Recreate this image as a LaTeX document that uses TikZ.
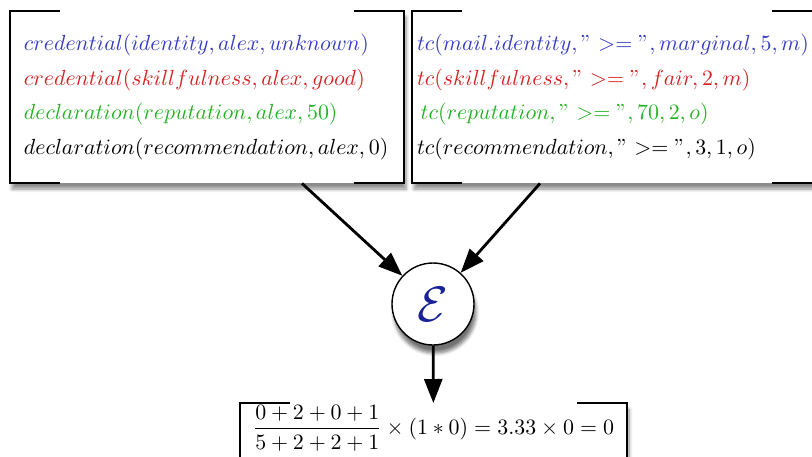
\documentclass[tikz,border=0pt]{standalone}
\usepackage{xcolor}
\usepackage{tikz}
\usepackage{amsmath,amssymb}
\usetikzlibrary{arrows.meta, positioning, calc, shadows.blur}

\definecolor{credblue}{RGB}{55,60,195}
\definecolor{credred}{RGB}{215,35,35}
\definecolor{credgreen}{RGB}{35,180,35}
\definecolor{evalblue}{RGB}{25,35,150}

\begin{document}
\begin{tikzpicture}[x=0.5pt, y=-0.5pt,
    panel/.style={rectangle, fill=white, inner sep=0pt,
        blur shadow={shadow xshift=1pt, shadow yshift=-3pt, shadow blur steps=6, shadow opacity=45},
        font=\fontsize{11}{17.4}\selectfont},
    rules/.style={panel, minimum height=86pt, align=left},
    edge/.style={line width=1pt, black},
    arr/.style={-{Triangle[length=12pt, width=9pt]}, line width=1.4pt, black},
]
\useasboundingbox (0,0) rectangle (812,456);

% the two rule sets
\node[rules, minimum width=197pt, text width=183pt] (CRED) at (207,97) {
    {\color{credblue}$credential(identity,alex,unknown)$}\\
    {\color{credred}$credential(skillfulness,alex,good)$}\\
    {\color{credgreen}$declaration(reputation,alex,50)$}\\
    $declaration(recommendation,alex,0)$};
\node[rules, minimum width=205pt, text width=200pt] (TC) at (617,97) {
    {\color{credblue}$tc(mail.identity,">=",marginal,5,m)$}\\
    {\color{credred}$tc(skillfulness,">=",fair,2,m)$}\\
    {\color{credgreen}\,$tc(reputation,">=",70,2,o)$}\\
    $tc(recommendation,">=",3,1,o)$};

% evaluation and result
\node[circle, draw, line width=0.7pt, fill=white, minimum size=41pt, inner sep=0pt,
    blur shadow={shadow xshift=1pt, shadow yshift=-4pt, shadow blur steps=6, shadow opacity=55},
    text=evalblue, font=\fontsize{31}{36}\selectfont] (EVAL) at (433,304) {$\mathcal{E}$};
\node[panel, anchor=north, minimum width=193.5pt, inner ysep=1pt, text depth=30pt] (CALC) at (433.5,403)
    {$\displaystyle\frac{0+2+0+1}{5+2+2+1}\times(1*0)=3.33\times0=0$};

\foreach \p in {CRED, TC, CALC} {
    \draw[edge] ([xshift=25pt]\p.north west) -- (\p.north west) -- (\p.south west) -- ([xshift=25pt]\p.south west);
    \draw[edge] ([xshift=-25pt]\p.north east) -- (\p.north east) -- (\p.south east) -- ([xshift=-25pt]\p.south east);
}

\draw[arr] ($(CRED.south)+(95,0)$) -- (EVAL);
\draw[arr] ($(TC.south)+(-77,0)$) -- (EVAL);
\draw[arr] (EVAL) -- (CALC);
\end{tikzpicture}
\end{document}
